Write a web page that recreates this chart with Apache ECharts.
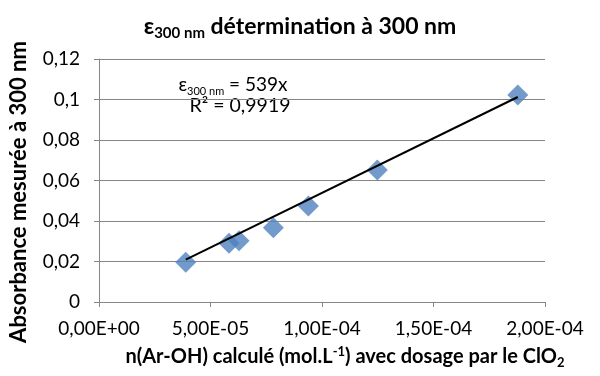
<!DOCTYPE html>
<html>
<head>
<meta charset="utf-8">
<script src="https://cdn.jsdelivr.net/npm/echarts@6/dist/echarts.min.js"></script>
<style>
  html, body { margin: 0; padding: 0; background: #fff; }
  #chart { width: 600px; height: 376px; }
</style>
</head>
<body>
<div id="chart"></div>
<script>
// Measured concentrations (mol.L-1) and absorbances at 300 nm
const concentrations = [3.89e-5, 5.83e-5, 6.28e-5, 7.82e-5, 9.39e-5, 1.248e-4, 1.878e-4];
const absorbances = [0.0196, 0.029, 0.0303, 0.0367, 0.0474, 0.0652, 0.1022];

// Linear fit through the origin
const slope = 539;
const r2Text = '0,9919';

const xTicks = { min: 0, max: 2e-4, step: 5e-5 };
const yTicks = { min: 0, max: 0.12, step: 0.02 };

const FONT = 'Lato, "Open Sans", sans-serif';

function sciLabel(v) {
  const [m, e] = v.toExponential(2).split('e');
  const n = parseInt(e, 10);
  const exp = (n < 0 ? '-' : '+') + String(Math.abs(n)).padStart(2, '0');
  return m.replace('.', ',') + 'E' + exp;
}

function decLabel(v) {
  return String(Math.round(v * 100) / 100).replace('.', ',');
}

const points = concentrations.map((x, i) => [x, absorbances[i]]);
const xFitMin = Math.min(...concentrations);
const xFitMax = Math.max(...concentrations);
const fitLine = [[xFitMin, slope * xFitMin], [xFitMax, slope * xFitMax]];

const chart = echarts.init(document.getElementById('chart'), null, { renderer: 'canvas' });

chart.setOption({
  animation: false,
  backgroundColor: '#ffffff',
  textStyle: { fontFamily: FONT },
  title: {
    text: 'ε{sub|300 nm} détermination à 300 nm',
    left: 'center',
    top: 8,
    textStyle: {
      fontFamily: FONT,
      fontSize: 23,
      fontWeight: 'bold',
      color: '#000',
      lineHeight: 28,
      rich: {
        sub: { fontFamily: FONT, fontSize: 15, fontWeight: 'bold', color: '#000', verticalAlign: 'bottom', lineHeight: 16 }
      }
    }
  },
  grid: { left: 99, right: 55, top: 59, bottom: 74, containLabel: false, outerBoundsMode: 'none' },
  xAxis: {
    type: 'value',
    min: xTicks.min,
    max: xTicks.max,
    interval: xTicks.step,
    name: '{t|n(Ar-OH) calculé (mol.L}{sup|-1}{t|) avec dosage par le ClO}{sub|2}',
    nameLocation: 'middle',
    nameGap: 43,
    nameTextStyle: {
      lineHeight: 24,
      padding: [0, 0, 0, 46],
      rich: {
        t: { fontFamily: FONT, fontSize: 20, fontWeight: 'bold', color: '#000', lineHeight: 24 },
        sup: { fontFamily: FONT, fontSize: 13, fontWeight: 'bold', color: '#000', verticalAlign: 'top', lineHeight: 14 },
        sub: { fontFamily: FONT, fontSize: 13, fontWeight: 'bold', color: '#000', verticalAlign: 'bottom', lineHeight: 14 }
      }
    },
    axisLine: { show: true, lineStyle: { color: '#868686', width: 1 } },
    axisTick: { show: true, length: 5, lineStyle: { color: '#868686' } },
    axisLabel: { formatter: sciLabel, fontFamily: FONT, fontSize: 19, color: '#000', margin: 17 },
    splitLine: { show: false }
  },
  yAxis: {
    type: 'value',
    min: yTicks.min,
    max: yTicks.max,
    interval: yTicks.step,
    name: 'Absorbance mesurée à 300 nm',
    nameLocation: 'middle',
    nameRotate: 90,
    nameGap: 66,
    nameTextStyle: {
      fontFamily: FONT, fontSize: 22, fontWeight: 'bold', color: '#000',
      lineHeight: 26,
      padding: [0, 23, 0, 0]
    },
    axisLine: { show: true, lineStyle: { color: '#868686', width: 1 } },
    axisTick: { show: true, length: 5, lineStyle: { color: '#868686' } },
    axisLabel: { formatter: decLabel, fontFamily: FONT, fontSize: 19, color: '#000', margin: 19 },
    splitLine: { show: true, lineStyle: { color: '#868686', width: 1 } }
  },
  series: [
    {
      type: 'line',
      data: fitLine,
      symbol: 'none',
      lineStyle: { color: '#000', width: 2 },
      silent: true,
      z: 3
    },
    {
      type: 'scatter',
      data: points,
      symbol: 'diamond',
      symbolSize: 21,
      itemStyle: { color: '#4F81BD' },
      z: 2
    }
  ],
  graphic: [
    {
      type: 'text',
      x: 233,
      y: 85,
      style: {
        text: '{t|ε}{sub|300 nm}{t| = ' + slope + 'x}',
        align: 'center',
        verticalAlign: 'middle',
        rich: {
          t: { fontFamily: FONT, fontSize: 19, color: '#000', lineHeight: 24 },
          sub: { fontFamily: FONT, fontSize: 11, color: '#000', verticalAlign: 'bottom', lineHeight: 15 }
        }
      }
    },
    {
      type: 'text',
      x: 240,
      y: 106,
      style: {
        text: 'R² = ' + r2Text,
        align: 'center',
        verticalAlign: 'middle',
        fontFamily: FONT,
        fontSize: 19.5,
        fill: '#000'
      }
    }
  ]
});
</script>
</body>
</html>
